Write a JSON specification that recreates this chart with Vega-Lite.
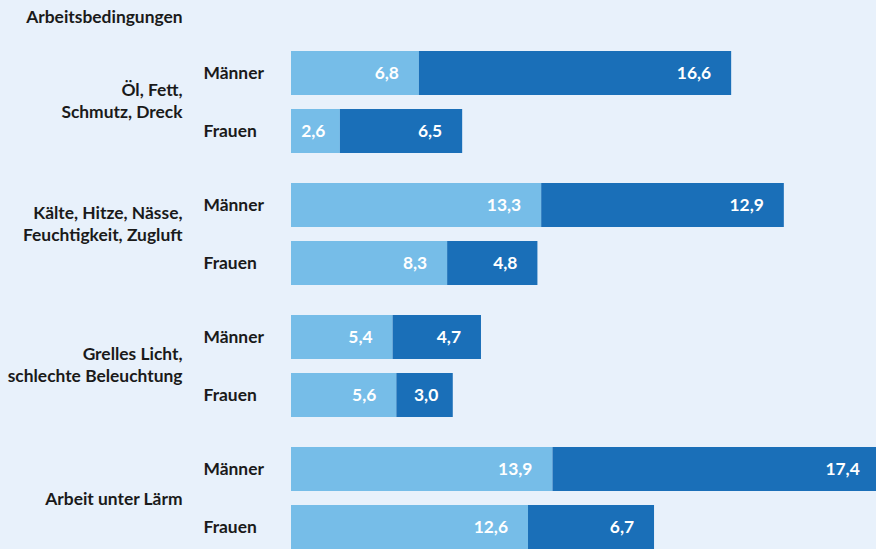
{
  "$schema": "https://vega.github.io/schema/vega-lite/v6.json",
  "background": "#e8f1fb",
  "padding": {"left": 7, "top": 8, "right": 0, "bottom": 0},
  "title": {"text": "Arbeitsbedingungen", "anchor": "start", "frame": "bounds", "font": "Lato", "fontSize": 17.4, "fontWeight": "bold", "color": "#1a1a1a", "offset": 25, "dx": 19},
  "config": {
    "locale": {"number": {"decimal": ",", "thousands": ".", "grouping": [3], "currency": ["", " €"]}},
    "view": {"stroke": null},
    "font": "Lato"
  },
  "data": {"values": [
    {"gruppe": "Öl, Fett,|Schmutz, Dreck", "geschlecht": "Männer", "teil": "a", "wert": 6.8},
    {"gruppe": "Öl, Fett,|Schmutz, Dreck", "geschlecht": "Männer", "teil": "b", "wert": 16.6},
    {"gruppe": "Öl, Fett,|Schmutz, Dreck", "geschlecht": "Frauen", "teil": "a", "wert": 2.6},
    {"gruppe": "Öl, Fett,|Schmutz, Dreck", "geschlecht": "Frauen", "teil": "b", "wert": 6.5},
    {"gruppe": "Kälte, Hitze, Nässe,|Feuchtigkeit, Zugluft", "geschlecht": "Männer", "teil": "a", "wert": 13.3},
    {"gruppe": "Kälte, Hitze, Nässe,|Feuchtigkeit, Zugluft", "geschlecht": "Männer", "teil": "b", "wert": 12.9},
    {"gruppe": "Kälte, Hitze, Nässe,|Feuchtigkeit, Zugluft", "geschlecht": "Frauen", "teil": "a", "wert": 8.3},
    {"gruppe": "Kälte, Hitze, Nässe,|Feuchtigkeit, Zugluft", "geschlecht": "Frauen", "teil": "b", "wert": 4.8},
    {"gruppe": "Grelles Licht,|schlechte Beleuchtung", "geschlecht": "Männer", "teil": "a", "wert": 5.4},
    {"gruppe": "Grelles Licht,|schlechte Beleuchtung", "geschlecht": "Männer", "teil": "b", "wert": 4.7},
    {"gruppe": "Grelles Licht,|schlechte Beleuchtung", "geschlecht": "Frauen", "teil": "a", "wert": 5.6},
    {"gruppe": "Grelles Licht,|schlechte Beleuchtung", "geschlecht": "Frauen", "teil": "b", "wert": 3.0},
    {"gruppe": "Arbeit unter Lärm", "geschlecht": "Männer", "teil": "a", "wert": 13.9},
    {"gruppe": "Arbeit unter Lärm", "geschlecht": "Männer", "teil": "b", "wert": 17.4},
    {"gruppe": "Arbeit unter Lärm", "geschlecht": "Frauen", "teil": "a", "wert": 12.6},
    {"gruppe": "Arbeit unter Lärm", "geschlecht": "Frauen", "teil": "b", "wert": 6.7}
  ]},
  "transform": [
    {"stack": "wert", "groupby": ["gruppe", "geschlecht"], "sort": [{"field": "teil", "order": "ascending"}], "as": ["x0", "x1"]}
  ],
  "facet": {
    "row": {
      "field": "gruppe",
      "type": "nominal",
      "sort": ["Öl, Fett,|Schmutz, Dreck", "Kälte, Hitze, Nässe,|Feuchtigkeit, Zugluft", "Grelles Licht,|schlechte Beleuchtung", "Arbeit unter Lärm"],
      "header": {"title": null, "labels": false}
    }
  },
  "spacing": {"row": 30},
  "resolve": {"scale": {"y": "independent"}},
  "spec": {
    "width": 585,
    "height": 102,
    "resolve": {"scale": {"y": "independent"}},
    "layer": [
      {
        "layer": [
          {
            "mark": {"type": "bar", "clip": true},
            "encoding": {
              "y": {
                "field": "geschlecht",
                "type": "nominal",
                "sort": ["Männer", "Frauen"],
                "scale": {"paddingInner": 0.2414, "paddingOuter": 0},
                "axis": {"title": null, "ticks": false, "domain": false, "labelAlign": "left", "labelPadding": 88, "labelOffset": 1, "labelFont": "Lato", "labelFontSize": 17.4, "labelFontWeight": "bold", "labelColor": "#1a1a1a"}
              },
              "x": {"field": "x0", "type": "quantitative", "scale": {"domain": [0, 31.1], "nice": false, "zero": true}, "axis": null},
              "x2": {"field": "x1"},
              "color": {"field": "teil", "type": "nominal", "scale": {"domain": ["a", "b"], "range": ["#76bde8", "#1a6fb8"]}, "legend": null}
            }
          },
          {
            "transform": [{"filter": "datum.wert >= 4"}],
            "mark": {"type": "text", "align": "right", "baseline": "middle", "dx": -20, "dy": 1, "color": "#ffffff", "font": "Lato", "fontSize": 17.4, "fontWeight": "bold"},
            "encoding": {
              "y": {"field": "geschlecht", "type": "nominal", "sort": ["Männer", "Frauen"]},
              "x": {"field": "x1", "type": "quantitative"},
              "text": {"field": "wert", "type": "quantitative", "format": ".1f"}
            }
          },
          {
            "transform": [{"filter": "datum.wert < 4"}],
            "mark": {"type": "text", "align": "right", "baseline": "middle", "dx": -14.5, "dy": 1, "color": "#ffffff", "font": "Lato", "fontSize": 17.4, "fontWeight": "bold"},
            "encoding": {
              "y": {"field": "geschlecht", "type": "nominal", "sort": ["Männer", "Frauen"]},
              "x": {"field": "x1", "type": "quantitative"},
              "text": {"field": "wert", "type": "quantitative", "format": ".1f"}
            }
          }
        ]
      },
      {
        "mark": {"type": "point", "opacity": 0},
        "encoding": {
          "y": {
            "field": "gruppe",
            "type": "nominal",
            "scale": {"paddingInner": 0, "paddingOuter": 0},
            "axis": {
              "orient": "left",
              "title": null,
              "ticks": false,
              "domain": false,
              "labelAlign": "right",
              "labelBaseline": "middle",
              "labelPadding": 109,
              "labelFont": "Lato",
              "labelFontSize": 17.4,
              "labelFontWeight": "bold",
              "labelColor": "#1a1a1a",
              "labelLineHeight": 22,
              "labelLimit": 300,
              "labelExpr": "split(datum.value, '|')",
              "labelOffset": {
                "condition": [
                  {"test": "datum.value === 'Öl, Fett,|Schmutz, Dreck'", "value": -12},
                  {"test": "datum.value === 'Kälte, Hitze, Nässe,|Feuchtigkeit, Zugluft'", "value": -21},
                  {"test": "datum.value === 'Grelles Licht,|schlechte Beleuchtung'", "value": -12}
                ],
                "value": 1
              }
            }
          },
          "x": {"field": "x0", "type": "quantitative"}
        }
      }
    ]
  }
}
